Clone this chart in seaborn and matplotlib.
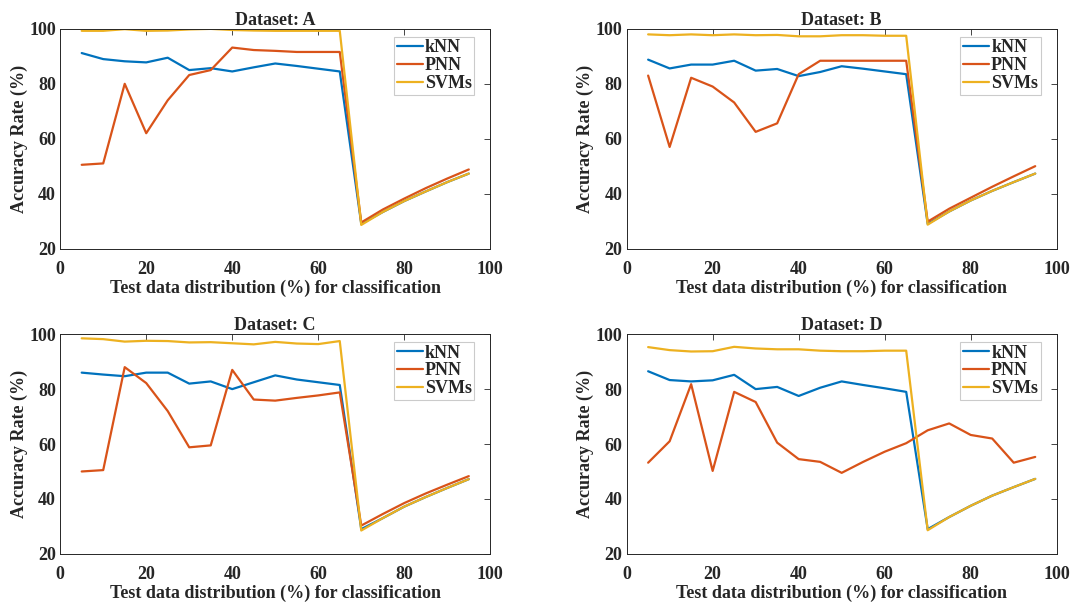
import numpy as np
import pandas as pd
import matplotlib
matplotlib.use("Agg")
import matplotlib.pyplot as plt
import seaborn as sns

# test data distribution (%)
test_pct = [5, 10, 15, 20, 25, 30, 35, 40, 45, 50, 55, 60, 65, 70, 75, 80, 85, 90, 95]
methods = ["kNN", "PNN", "SVMs"]
datasets = ["A", "B", "C", "D"]

knn_a = [91.2, 89.0, 88.2, 87.8, 89.5, 85.0, 85.7, 84.5, 86.0, 87.4, 86.5, 85.5, 84.5,
         29.0, 33.3, 37.3, 40.8, 44.2, 47.3]
pnn_a = [50.5, 51.0, 80.0, 62.0, 74.0, 83.2, 85.0, 93.2, 92.3, 92.0, 91.6, 91.6, 91.6,
         29.5, 34.2, 38.2, 42.0, 45.5, 48.8]
svm_a = [99.3, 99.3, 99.9, 99.3, 99.4, 99.8, 100.0, 99.6, 99.4, 99.3, 99.3, 99.3, 99.3,
         28.6, 33.3, 37.3, 40.8, 44.2, 47.3]

knn_b = [88.8, 85.6, 87.0, 87.0, 88.4, 84.8, 85.4, 82.8, 84.3, 86.4, 85.5, 84.5, 83.5,
         29.0, 33.5, 37.5, 41.0, 44.2, 47.3]
pnn_b = [83.0, 57.0, 82.2, 79.0, 73.2, 62.5, 65.6, 83.5, 88.4, 88.4, 88.4, 88.4, 88.4,
         29.8, 34.5, 38.5, 42.5, 46.3, 50.0]
svm_b = [98.0, 97.7, 98.0, 97.7, 98.0, 97.7, 97.8, 97.3, 97.3, 97.7, 97.7, 97.5, 97.5,
         28.7, 33.5, 37.5, 41.0, 44.2, 47.3]

knn_c = [86.0, 85.3, 84.7, 86.0, 86.0, 82.0, 82.8, 80.0, 82.5, 85.0, 83.5, 82.5, 81.5,
         29.0, 33.0, 37.2, 40.7, 44.0, 47.2]
pnn_c = [50.0, 50.5, 88.0, 82.2, 72.0, 58.8, 59.5, 87.0, 76.2, 75.8, 76.8, 77.7, 78.8,
         30.3, 34.5, 38.5, 42.0, 45.2, 48.3]
svm_c = [98.5, 98.2, 97.3, 97.6, 97.5, 97.0, 97.1, 96.7, 96.3, 97.2, 96.6, 96.4, 97.5,
         28.5, 33.0, 37.2, 40.7, 44.0, 47.2]

knn_d = [86.5, 83.3, 82.8, 83.2, 85.2, 80.0, 80.8, 77.5, 80.5, 82.8, 81.5, 80.3, 79.0,
         29.0, 33.4, 37.5, 41.2, 44.3, 47.3]
pnn_d = [53.2, 61.0, 81.8, 50.2, 79.0, 75.3, 60.5, 54.5, 53.5, 49.5, 53.5, 57.2, 60.3,
         65.0, 67.5, 63.3, 62.0, 53.2, 55.3]
svm_d = [95.3, 94.2, 93.7, 93.8, 95.4, 94.8, 94.5, 94.5, 94.0, 93.8, 93.8, 94.0, 94.0,
         28.6, 33.4, 37.5, 41.2, 44.3, 47.3]

results = {
    "A": [knn_a, pnn_a, svm_a],
    "B": [knn_b, pnn_b, svm_b],
    "C": [knn_c, pnn_c, svm_c],
    "D": [knn_d, pnn_d, svm_d],
}

sns.set_theme(style="white")
plt.rcParams["font.family"] = ["Liberation Serif", "DejaVu Serif"]
plt.rcParams["font.weight"] = "bold"
plt.rcParams["axes.labelweight"] = "bold"
plt.rcParams["axes.titleweight"] = "bold"

palette = {"kNN": "#0072BD", "PNN": "#D95319", "SVMs": "#EDB120"}
fs = 13

fig, axes = plt.subplots(2, 2, figsize=(10.75, 6.02), dpi=100)
fig.subplots_adjust(left=0.056, right=0.983, top=0.952, bottom=0.08, wspace=0.317, hspace=0.39)

for ax, name in zip(axes.flat, datasets):
    rows = []
    for m, vals in zip(methods, results[name]):
        for x, y in zip(test_pct, vals):
            rows.append({"test": x, "acc": y, "method": m})
    df = pd.DataFrame(rows)
    sns.lineplot(data=df, x="test", y="acc", hue="method", palette=palette,
                 linewidth=1.6, ax=ax)
    ax.set_xlim(0, 100)
    ax.set_ylim(20, 100)
    ax.set_xticks([0, 20, 40, 60, 80, 100])
    ax.set_yticks([20, 40, 60, 80, 100])
    ax.set_title(f"Dataset: {name}", fontsize=fs, pad=3)
    ax.set_xlabel("Test data distribution (%) for classification", fontsize=fs, labelpad=1)
    ax.set_ylabel("Accuracy Rate (%)", fontsize=fs, labelpad=1)
    ax.tick_params(axis="x", pad=9)
    ax.tick_params(axis="y", pad=3)
    ax.tick_params(direction="in", length=4, width=0.6, labelsize=fs,
                   top=True, right=True, colors="#262626")
    for lab in ax.get_xticklabels() + ax.get_yticklabels():
        lab.set_fontweight("bold")
    for sp in ax.spines.values():
        sp.set_color("#262626")
        sp.set_linewidth(0.7)
    leg = ax.legend(loc="upper right", bbox_to_anchor=(0.963, 0.965), fontsize=fs,
                    frameon=True, fancybox=False, borderpad=0.15, handlelength=1.45,
                    handletextpad=0.1, labelspacing=0.05, borderaxespad=0.0)
    leg.get_frame().set_edgecolor("#bfbfbf")
    leg.get_frame().set_linewidth(0.8)
    for line in leg.get_lines():
        line.set_linewidth(1.6)

fig.savefig("out.png", dpi=100, facecolor="white")
